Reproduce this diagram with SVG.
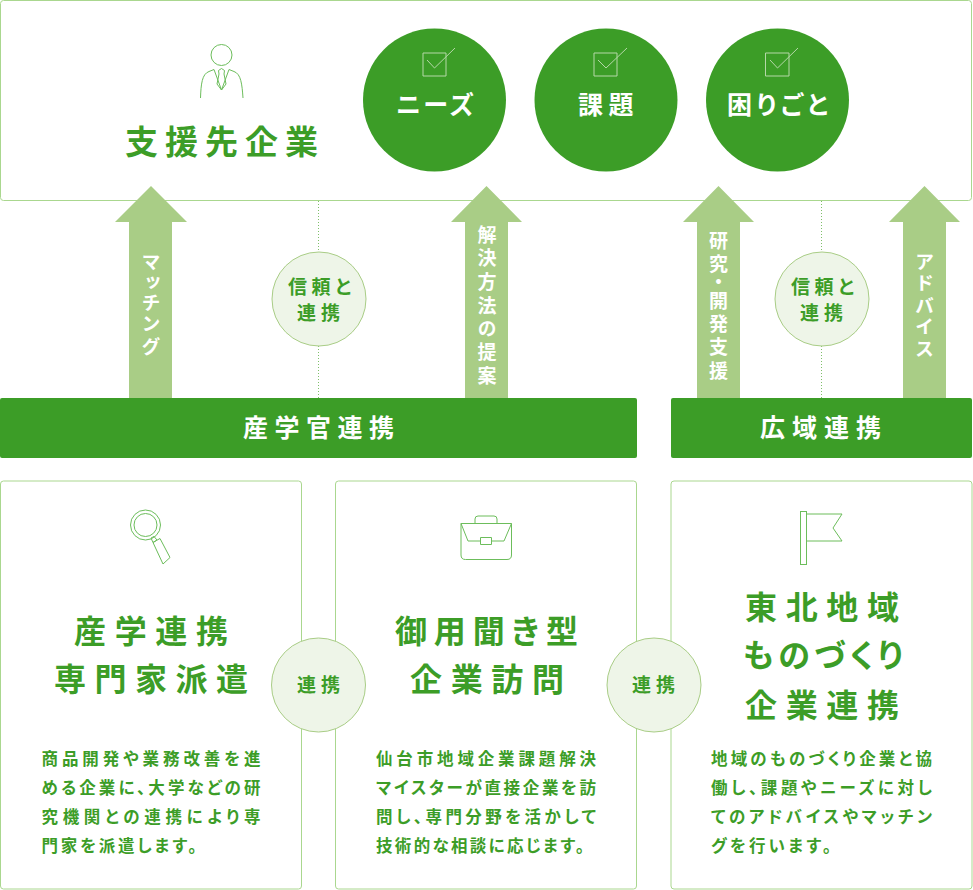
<svg xmlns="http://www.w3.org/2000/svg" width="973" height="890" viewBox="0 0 973 890">
<style>
text{font-family:"Noto Sans CJK JP","Noto Sans",sans-serif;font-weight:700;font-feature-settings:"palt"}
.box{fill:#fff;stroke:#aad78f;stroke-width:1}
.bar{fill:#3c9d27}
.arrow{fill:#a9cd86}
.big{fill:#3c9d27}
.soft{fill:#eef5e8;stroke:#a9cd86;stroke-width:1}
.dot{stroke:#7fbf6a;stroke-width:1;stroke-dasharray:1 2;fill:none}
.ic{fill:none;stroke:#6cbd5b;stroke-width:1}
.chk{fill:none;stroke:#b5d8a8;stroke-width:1}
.h{fill:#3c9d27;font-size:32px}
.b{fill:#3c9d27;font-size:16.500px}
.w{fill:#fff}
.c{fill:#3c9d27;font-size:19px}
.v{fill:#fff;font-size:19px;writing-mode:vertical-rl;font-feature-settings:"vpal"}
</style>
<g id="top-box"><rect class="box" x="0.5" y="0.5" width="971" height="200" rx="3"/>
<g class="ic"><circle cx="221.5" cy="55" r="10.5"/><path d="M200.5 98C201 84 202 74 209 71.500L214 69.500L221.500 90L229 69.500L234 71.500C241 74 242 84 243 98"/><path d="M219 74L218.500 70.500L221.500 68.500L224.500 70.500L224 74L226 84L221.500 90L217 84Z"/></g>
<text class="h" x="125" y="154" style="font-size:33px;letter-spacing:7px">支援先企業</text></g>
<g id="connectors">
<path class="dot" d="M318.500 201V252M318.500 346V398M821.500 201V252M821.500 346V398"/>
</g>
<g id="need-1"><circle class="big" cx="434.500" cy="100" r="71.500"/><path class="chk" d="M423 53H446V76H423ZM427 60L434.500 68L455 48"/><text class="w" x="396" y="114" style="font-size:25px;letter-spacing:3px">ニーズ</text></g>
<g id="need-2"><circle class="big" cx="606" cy="100" r="71.500"/><path class="chk" d="M594 53H617V76H594ZM598 60L606 68L627 48"/><text class="w" x="578" y="114" style="font-size:25px;letter-spacing:5.500px">課題</text></g>
<g id="need-3"><circle class="big" cx="777.500" cy="100" r="71.500"/><path class="chk" d="M765.500 53H789V76H765.500ZM770 60L777.500 68L798 48"/><text class="w" x="727" y="114" style="font-size:25px;letter-spacing:4.500px">困りごと</text></g>
<g id="arrow-1"><path class="arrow" d="M151 186L187 222H172V398H129V222H115Z"/><text class="v" x="151" y="254" textLength="102">マッチング</text></g>
<g id="arrow-2"><path class="arrow" d="M486.500 186L522 222H508V398H465V222H451Z"/><text class="v" x="487" y="225" textLength="160">解決方法の提案</text></g>
<g id="arrow-3"><path class="arrow" d="M718.500 186L754 222H740V398H697V222H683Z"/><text class="v" x="718.500" y="231" textLength="149">研究・開発支援</text></g>
<g id="arrow-4"><path class="arrow" d="M924.500 186L960 222H946V398H903V222H889Z"/><text class="v" x="924.500" y="252" textLength="106">アドバイス</text></g>
<g id="trust-1"><circle class="soft" cx="319" cy="299" r="47"/><text class="c" x="288" y="294" textLength="63">信頼と</text><text class="c" x="297" y="320" textLength="43">連携</text></g>
<g id="trust-2"><circle class="soft" cx="822" cy="299" r="47"/><text class="c" x="791" y="294" textLength="63">信頼と</text><text class="c" x="800" y="320" textLength="43">連携</text></g>
<g id="bar-1"><rect class="bar" x="0" y="398" width="637" height="60" rx="2"/><text class="w" x="243" y="437" style="font-size:25px" textLength="151">産学官連携</text></g>
<g id="bar-2"><rect class="bar" x="671" y="398" width="301" height="60" rx="2"/><text class="w" x="760" y="437" style="font-size:25px" textLength="121">広域連携</text></g>
<g id="card-1"><rect class="box" x="0.500" y="481" width="301" height="408" rx="3"/>
<g class="ic"><circle cx="145.500" cy="525" r="15"/><circle cx="145.500" cy="525" r="11.500"/><path d="M151 538L154 536.500L157 540L153 542.500ZM153 542.500L160 538.500L170 557.500L163 564Z"/></g>
<text class="h" x="74" y="643" textLength="154">産学連携</text><text class="h" x="54" y="691" textLength="194">専門家派遣</text>
<text class="b" x="41.500" y="765" textLength="219">商品開発や業務改善を進</text><text class="b" x="41.500" y="794" textLength="219">める企業に、大学などの研</text><text class="b" x="41.500" y="823" textLength="219">究機関との連携により専</text><text class="b" x="41.500" y="852" textLength="155">門家を派遣します。</text></g>
<g id="card-2"><rect class="box" x="335.500" y="481" width="301" height="408" rx="3"/>
<g class="ic"><path d="M461 523.500H511.500V555C511.500 558 510 559.500 507 559.500H465.500C462.500 559.500 461 558 461 555ZM475 523.500V519Q475 516 478 516H494Q497 516 497 519V523.500M461 523.500L468 541H480.500M491.500 541H504L511.500 523.500M480.500 537.500H491.500V544.500H480.500Z"/></g>
<text class="h" x="395" y="643" textLength="183">御用聞き型</text><text class="h" x="410" y="691" textLength="154">企業訪問</text>
<text class="b" x="376" y="765" textLength="220">仙台市地域企業課題解決</text><text class="b" x="376" y="794" textLength="220">マイスターが直接企業を訪</text><text class="b" x="376" y="823" textLength="220">問し、専門分野を活かして</text><text class="b" x="376" y="852" textLength="208">技術的な相談に応じます。</text></g>
<g id="card-3"><rect class="box" x="671" y="481" width="301" height="408" rx="3"/>
<g class="ic"><rect x="800.500" y="511.500" width="6" height="53"/><path d="M806.500 514H842L833 528L842 541H806.500"/></g>
<text class="h" x="745" y="619" textLength="154">東北地域</text><text class="h" x="743" y="667" textLength="160">ものづくり</text><text class="h" x="745" y="717" textLength="154">企業連携</text>
<text class="b" x="711" y="765" textLength="221">地域のものづくり企業と協</text><text class="b" x="711" y="794" textLength="221">働し、課題やニーズに対し</text><text class="b" x="711" y="823" textLength="221">てのアドバイスやマッチン</text><text class="b" x="711" y="852" textLength="120">グを行います。</text></g>
<g id="link-1"><circle class="soft" cx="318.500" cy="685" r="47"/><text class="c" x="297" y="692" textLength="43">連携</text></g>
<g id="link-2"><circle class="soft" cx="654" cy="685" r="47"/><text class="c" x="632" y="692" textLength="43">連携</text></g>
</svg>
